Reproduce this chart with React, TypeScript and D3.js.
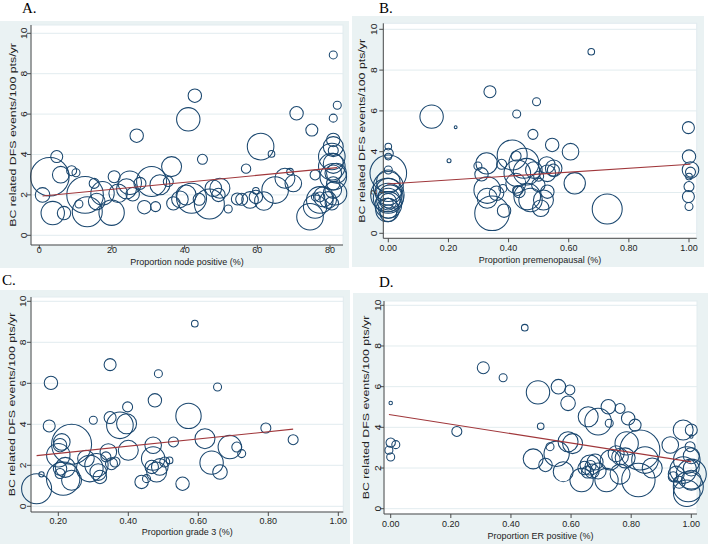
import React from 'react';
import * as d3 from 'd3';

// ---------- Panel A: Proportion node positive ----------
const aX = [2.9,0.9,4.8,5.9,3.7,6.8,8.9,10.1,10.9,12.6,13.2,15.1,15.8,17.4,19.9,20.6,21.7,24.0,24.9,25.7,26.8,27.7,28.9,30.9,32.0,33.2,35.5,36.4,36.9,38.7,40.4,41.0,41.9,42.8,44.0,44.9,46.8,47.9,49.7,49.3,52.0,55.7,56.9,58.0,59.6,59.6,60.9,61.8,63.9,64.9,67.6,69.0,69.9,70.8,75.0,75.9,74.5,75.9,77.2,78.2,79.5,80.5,80.9,82.0,80.9,80.9,80.9,80.5,80.9,80.5,80.9,80.9,80.9,81.4,81.8,80.9,80.9,77.2,76.0,54.5];
const aY = [2.9,2.0,3.9,3.0,1.1,1.1,3.2,3.1,1.55,2.0,1.17,2.57,1.67,2.08,1.12,2.9,2.08,2.3,2.6,2.03,4.93,2.57,1.39,2.66,1.42,2.5,2.66,3.4,1.58,1.78,2.0,5.74,1.83,6.91,1.78,3.76,1.55,2.33,2.33,2.0,1.3,1.78,3.3,1.75,2.2,1.9,4.39,1.7,4.03,2.24,2.82,3.15,2.57,6.04,5.21,2.99,0.92,1.42,1.75,1.91,1.75,1.58,8.93,6.44,5.8,4.72,4.39,3.9,3.56,3.4,3.07,2.9,2.57,2.08,3.07,4.2,2.24,1.9,1.9,1.8];
const aW = [372,53,36,69,137,45,25,16,16,335,225,25,69,137,161,36,86,100,137,45,45,36,45,225,25,100,25,100,45,69,100,137,225,45,36,25,225,69,100,45,16,36,22,69,11,45,177,86,11,177,100,11,69,45,36,25,177,137,177,100,69,45,16,16,16,45,100,177,100,177,69,177,45,137,100,25,69,25,16,36];

// ---------- Panel B: Proportion premenopausal ----------
const bX = [0,0,0,0,0,0,0,-0.003,0,0,0,0,0,0,-0.003,0,0.006,0,
  0.144,0.202,0.224,0.338,0.298,0.327,0.31,0.329,0.329,0.345,0.36,0.377,0.385,0.381,0.412,0.427,0.425,0.424,0.429,0.435,0.451,0.46,0.462,0.473,0.481,0.493,0.484,0.499,0.507,0.516,0.527,0.529,0.529,0.545,0.549,0.55,0.606,0.62,0.675,0.728,0.43,0.5,
  0.998,1.0,1.005,1.0,1.0,0.998,1.0,1.005];
const bY = [2.94,4.25,3.92,3.1,2.53,2.29,2.04,1.88,1.72,1.63,1.55,1.47,1.39,1.23,1.14,0.98,1.8,3.76,
  5.72,3.56,5.2,6.94,3.3,3.43,2.89,2.12,1.72,0.98,1.96,3.38,1.11,2.2,3.84,5.85,3.79,2.45,2.94,2.04,3.43,3.02,1.8,1.63,4.85,6.45,3.1,2.37,1.23,1.63,3.35,2.94,2.04,4.33,3.1,3.19,4.0,2.45,8.9,1.19,2.1,2.8,
  5.18,3.76,3.1,2.78,2.29,1.8,1.31,3.0];
const bW = [335,11,25,16,137,225,177,279,225,137,69,25,177,100,137,69,137,11,
  137,4,2,36,16,114,45,177,100,299,53,25,45,16,225,16,25,100,177,36,225,177,177,137,25,16,69,45,69,100,69,69,45,45,36,69,69,114,11,225,25,25,
  36,45,69,11,25,36,16,25];

// ---------- Panel C: Proportion grade 3 ----------
const cX = [0.138,0.152,0.174,0.179,0.2,0.205,0.21,0.205,0.205,0.214,0.238,0.238,0.279,0.29,0.3,0.314,0.319,0.336,0.343,0.348,0.348,0.352,0.362,0.376,0.395,0.398,0.4,0.438,0.452,0.467,0.471,0.471,0.476,0.481,0.486,0.49,0.504,0.518,0.529,0.555,0.572,0.59,0.619,0.638,0.655,0.662,0.69,0.71,0.724,0.793,0.871,0.309,0.22];
const cY = [0.86,1.56,3.92,6.02,2.49,2.98,3.14,1.84,1.6,1.35,3.03,1.27,2.33,1.84,4.2,1.67,1.43,2.41,2.65,6.91,4.33,2.08,2.16,3.95,4.03,4.85,2.73,1.19,1.35,1.92,2.98,2.33,5.17,1.67,6.47,1.92,2.16,2.24,3.14,1.1,4.41,8.91,3.3,2.13,5.82,1.67,2.89,2.89,2.57,3.82,3.25,2.01,1.9];
const cW = [225,7,36,45,137,45,69,45,25,279,400,100,69,177,16,69,45,25,69,36,36,36,25,177,100,25,100,45,16,45,69,137,45,100,16,69,25,11,25,45,161,11,100,137,16,53,137,25,16,25,25,136,100];

// ---------- Panel D: Proportion ER positive ----------
const dX = [0,0,0.017,-0.006,0,0.22,0.308,0.374,0.446,0.499,0.49,0.474,0.515,0.53,0.552,0.558,0.596,0.59,0.574,0.59,0.605,0.635,0.663,0.657,0.69,0.724,0.763,0.727,0.79,0.813,0.785,0.829,0.645,0.655,0.665,0.67,0.68,0.718,0.73,0.763,0.763,0.824,0.846,0.87,0.93,0.94,0.973,1.0,1.0,0.996,0.985,0.973,1.0,0.99,0.985,1.0,1.0,0.96,0.95,1.0,0.75,0.78,0.69];
const dY = [5.2,3.25,3.15,2.87,2.54,3.8,6.93,6.44,8.9,4.05,5.72,2.45,2.15,3.05,2.7,6.0,5.84,5.18,1.82,3.29,3.2,1.41,2.15,4.52,4.28,5.01,4.93,4.2,4.44,4.11,3.21,2.89,2.0,1.8,2.1,1.85,2.3,1.41,2.39,2.56,1.7,1.41,2.39,2.0,3.13,1.57,3.87,3.87,3.55,3.05,2.39,1.9,1.7,1.08,0.76,2.6,2.0,1.3,1.7,1.4,2.7,2.5,1.85];
const dW = [3,22,16,16,16,25,36,16,11,11,137,100,45,16,160,53,25,53,100,100,100,136,100,100,177,53,25,16,45,36,136,400,45,36,30,50,64,136,100,69,100,279,177,100,69,25,100,36,3,25,177,177,225,225,177,64,64,36,64,100,64,100,64];

// Linear fit (intercept, slope) per panel
const fitIntercept = [1.93, 2.42, 2.23, 4.62];
const fitSlope = [0.0173, 0.96, 1.76, -2.32];

const yTicks = [0, 2, 4, 6, 8, 10];
const xTicksA = [0, 20, 40, 60, 80];
const xTicksB = [0, 0.2, 0.4, 0.6, 0.8, 1.0];
const xTicksC = [0.2, 0.4, 0.6, 0.8, 1.0];
const xTicksD = [0, 0.2, 0.4, 0.6, 0.8, 1.0];
const panelLetters = ['A.', 'B.', 'C.', 'D.'];
const xTitles = ['Proportion node positive (%)', 'Proportion premenopausal (%)', 'Proportion grade 3 (%)', 'Proportion ER positive (%)'];
const yTitle = 'BC related DFS events/100 pts/yr';

// ---------- layout (pixels) ----------
const layouts = [
  { bg: [0, 21, 349, 247], plot: [31, 25, 343, 245], xDom: [0, 80], xRng: [39.3, 330], yRng: [235.3, 33.3], letter: [22, 13], yTickX: 24, yTitleX: 13, xTickY: 253, xTitleY: 264.5, fmt: d3.format('d') },
  { bg: [352, 16, 352, 251], plot: [383.3, 23.3, 696.7, 238.3], xDom: [0, 1], xRng: [388.3, 689], yRng: [233.3, 29.3], letter: [379, 13], yTickX: 374, yTitleX: 361.5, xTickY: 251, xTitleY: 262.5, fmt: d3.format('.2f') },
  { bg: [0, 290, 350, 254], plot: [31, 297, 343.3, 512], xDom: [0.2, 1], xRng: [58.3, 338.3], yRng: [506.3, 301.3], letter: [2, 285], yTickX: 23, yTitleX: 12, xTickY: 523.5, xTitleY: 534.5, fmt: d3.format('.2f') },
  { bg: [353, 293, 355, 251], plot: [384, 301, 697, 514], xDom: [0, 1], xRng: [390.7, 691.3], yRng: [508.7, 305.3], letter: [379, 287], yTickX: 377.5, yTitleX: 366, xTickY: 527, xTitleY: 538.5, fmt: d3.format('.2f') },
];

const panelData = [
  { xs: aX, ys: aY, ws: aW, ticks: xTicksA },
  { xs: bX, ys: bY, ws: bW, ticks: xTicksB },
  { xs: cX, ys: cY, ws: cW, ticks: xTicksC },
  { xs: dX, ys: dY, ws: dW, ticks: xTicksD },
];

const SANS = '"Liberation Sans", Arial, Helvetica, sans-serif';
const BG = '#EAF2F3';
const GRID = '#E2ECEF';
const NAVY = '#1A476F';
const MAROON = '#A0373B';
const AXIS = '#4a4a4a';
const TXT = '#222';

const rScale = d3.scaleSqrt().domain([0, 400]).range([0, 20]);

function Panel({ i }: { i: number }) {
  const L = layouts[i];
  const D = panelData[i];
  const x = d3.scaleLinear().domain(L.xDom).range(L.xRng);
  const y = d3.scaleLinear().domain([0, 10]).range(L.yRng);
  const [px0, py0, px1, py1] = L.plot;
  const xmin = d3.min(D.xs) as number;
  const xmax = d3.max(D.xs) as number;
  const fitPts: [number, number][] = [xmin, xmax].map((v) => [v, fitIntercept[i] + fitSlope[i] * v]);
  const line = d3.line<[number, number]>().x((d) => x(d[0])).y((d) => y(d[1]));
  const midY = (py0 + py1) / 2;
  return (
    <g>
      <rect x={L.bg[0]} y={L.bg[1]} width={L.bg[2]} height={L.bg[3]} fill={BG} />
      <rect x={px0} y={py0} width={px1 - px0} height={py1 - py0} fill="#fff" stroke={GRID} strokeWidth={1} />
      {yTicks.map((t) => (
        <line key={'g' + t} x1={px0} x2={px1} y1={y(t)} y2={y(t)} stroke={GRID} strokeWidth={1} />
      ))}
      {D.xs.map((v, k) => (
        <circle key={k} cx={x(v)} cy={y(D.ys[k])} r={rScale(D.ws[k])} fill="none" stroke={NAVY} strokeWidth={1.05} />
      ))}
      <path d={line(fitPts) || ''} fill="none" stroke={MAROON} strokeWidth={1.1} />
      <line x1={px0} x2={px0} y1={py0} y2={py1} stroke={AXIS} strokeWidth={1} />
      <line x1={px0} x2={px1} y1={py1} y2={py1} stroke={AXIS} strokeWidth={1} />
      {yTicks.map((t) => (
        <g key={'yt' + t}>
          <line x1={px0 - 4} x2={px0} y1={y(t)} y2={y(t)} stroke={AXIS} strokeWidth={1} />
          <text transform={`translate(${L.yTickX},${y(t)}) rotate(-90) scale(1.15,1)`} textAnchor="middle" dy="0.35em" fontFamily={SANS} fontSize={9} fill={TXT}>{t}</text>
        </g>
      ))}
      {D.ticks.map((t) => (
        <g key={'xt' + t}>
          <line x1={x(t)} x2={x(t)} y1={py1} y2={py1 + 4} stroke={AXIS} strokeWidth={1} />
          <text transform={`translate(${x(t)},${L.xTickY}) scale(1,1.08)`} textAnchor="middle" fontFamily={SANS} fontSize={9} fill={TXT}>{L.fmt(t)}</text>
        </g>
      ))}
      <text transform={`translate(${(px0 + px1) / 2},${L.xTitleY}) scale(1,1.08)`} textAnchor="middle" fontFamily={SANS} fontSize={9} fill={TXT}>{xTitles[i]}</text>
      <text transform={`translate(${L.yTitleX},${midY}) rotate(-90) scale(1.3,1)`} textAnchor="middle" dy="0.35em" fontFamily={SANS} fontSize={9.5} fill={TXT}>{yTitle}</text>
      <text x={L.letter[0]} y={L.letter[1]} fontFamily='"Liberation Serif", "Times New Roman", serif' fontSize={15} fill="#000">{panelLetters[i]}</text>
    </g>
  );
}

export default function App() {
  return (
    <svg width={708} height={544} viewBox="0 0 708 544" style={{ position: 'absolute', left: 0, top: 0, background: '#fff' }}>
      {[0, 1, 2, 3].map((i) => <Panel key={i} i={i} />)}
    </svg>
  );
}
